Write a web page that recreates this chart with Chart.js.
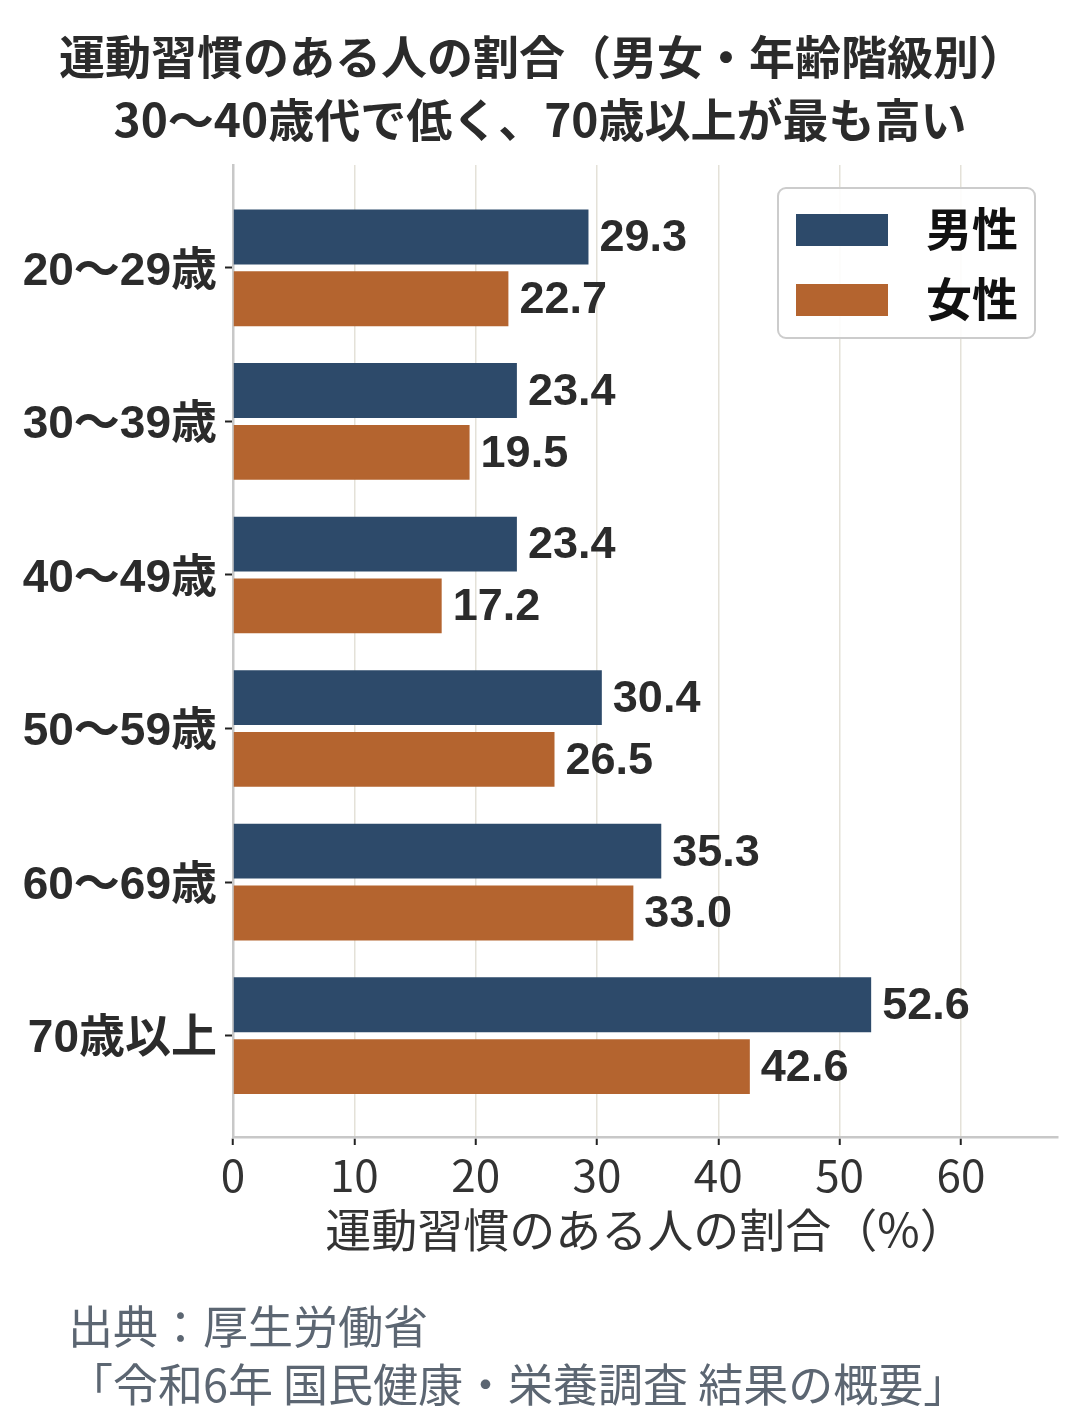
<!DOCTYPE html>
<html lang="ja">
<head>
<meta charset="utf-8">
<title>運動習慣のある人の割合</title>
<script src="https://cdn.jsdelivr.net/npm/chart.js@4.4.1/dist/chart.umd.min.js"></script>
<style>
  html, body { margin: 0; padding: 0; background: #fff; }
  #wrap { width: 1080px; height: 1425px; position: relative; }
</style>
</head>
<body>
<div id="wrap"><canvas id="chart"></canvas></div>
<script>
// データ（令和6年 国民健康・栄養調査）
const ageGroups = ['20～29歳', '30～39歳', '40～49歳', '50～59歳', '60～69歳', '70歳以上'];
const maleValues = [29.3, 23.4, 23.4, 30.4, 35.3, 52.6];
const femaleValues = [22.7, 19.5, 17.2, 26.5, 33.0, 42.6];
const seriesNames = ['男性', '女性'];
const xTickValues = [0, 10, 20, 30, 40, 50, 60];

const titleLines = ['運動習慣のある人の割合（男女・年齢階級別）', '30～40歳代で低く、70歳以上が最も高い'];
const xAxisTitle = '運動習慣のある人の割合（%）';
const sourceLines = ['出典：厚生労働省', '「令和6年 国民健康・栄養調査 結果の概要」'];

const COLORS = { male: '#2d4a6a', female: '#b4642f' };
const JP = '"Noto Sans CJK JP", "Noto Sans", sans-serif';
const NUM = '"Liberation Sans", "Noto Sans CJK JP", sans-serif';

// タイトル・凡例・出典・数値ラベル
const decorPlugin = {
    id: 'decor',
    afterDatasetsDraw(chart) {
        const ctx = chart.ctx;
        ctx.save();
        ctx.fillStyle = '#2b2b2b';
        ctx.font = `bold 45px ${NUM}`;
        ctx.textAlign = 'left';
        ctx.textBaseline = 'middle';
        chart.data.datasets.forEach((ds, di) => {
            chart.getDatasetMeta(di).data.forEach((bar, i) => {
                ctx.fillText(ds.data[i].x.toFixed(1), bar.x + 11, bar.y + 2);
            });
        });
        ctx.restore();
    },
    afterDraw(chart) {
        const ctx = chart.ctx;
        ctx.save();
        // タイトル
        ctx.fillStyle = '#2b2b2b';
        ctx.font = `bold 46px ${JP}`;
        ctx.textAlign = 'center';
        ctx.textBaseline = 'middle';
        ctx.fillText(titleLines[0], 542, 57);
        ctx.fillText(titleLines[1], 540, 120);

        // 凡例
        const lx = 778, ly = 188, lw = 257, lh = 150;
        ctx.fillStyle = 'rgba(255,255,255,0.9)';
        ctx.strokeStyle = '#cccccc';
        ctx.lineWidth = 2;
        ctx.beginPath();
        ctx.roundRect(lx, ly, lw, lh, 8);
        ctx.fill();
        ctx.stroke();
        [COLORS.male, COLORS.female].forEach((c, i) => {
            const y = 214 + i * 70;
            ctx.fillStyle = c;
            ctx.fillRect(796, y, 92, 32);
            ctx.fillStyle = '#111';
            ctx.font = `bold 46px ${JP}`;
            ctx.textAlign = 'left';
            ctx.fillText(seriesNames[i], 926, y + 15);
        });

        // 出典
        ctx.fillStyle = '#5c6672';
        ctx.font = `45px ${JP}`;
        ctx.textAlign = 'left';
        ctx.fillText(sourceLines[0], 68, 1327);
        ctx.fillText(sourceLines[1], 68, 1385);
        ctx.restore();
    }
};

new Chart(document.getElementById('chart'), {
    type: 'bar',
    data: {
        datasets: [
            {
                label: seriesNames[0],
                data: maleValues.map((v, i) => ({ x: v, y: i })),
                backgroundColor: COLORS.male
            },
            {
                label: seriesNames[1],
                data: femaleValues.map((v, i) => ({ x: v, y: i })),
                backgroundColor: COLORS.female
            }
        ]
    },
    options: {
        indexAxis: 'y',
        responsive: true,
        maintainAspectRatio: false,
        animation: false,
        categoryPercentage: 0.805,
        barPercentage: 0.887,
        layout: { padding: { top: 165, right: 22, bottom: 168, left: 0 } },
        plugins: {
            legend: { display: false },
            title: { display: false },
            tooltip: { enabled: false }
        },
        scales: {
            x: {
                type: 'linear',
                min: 0,
                max: 68,
                offset: false,
                afterFit(scale) { scale.height = 120; },
                afterBuildTicks(scale) { scale.ticks = xTickValues.map(v => ({ value: v })); },
                ticks: { color: '#333', font: { family: JP, size: 44 }, padding: 4 },
                grid: { color: '#e4e1d8', lineWidth: 1.5, tickColor: '#222', tickLength: 8, tickWidth: 2 },
                border: { color: '#c8c8c8', width: 2.5 },
                title: { display: true, text: xAxisTitle, color: '#333', font: { family: JP, size: 46 }, padding: 0 }
            },
            y: {
                type: 'linear',
                min: -0.67,
                max: 5.66,
                reverse: true,
                offset: false,
                afterFit(scale) { scale.width = 233; },
                afterBuildTicks(scale) { scale.ticks = ageGroups.map((_, i) => ({ value: i })); },
                ticks: {
                    color: '#2b2b2b',
                    // 空行＋小さい行高でラベルを少し下げる
                    font: { family: NUM, size: 46, weight: 'bold', lineHeight: '8px' },
                    padding: 8,
                    callback: v => ['', ageGroups[v]]
                },
                grid: { offset: false, drawOnChartArea: false, tickColor: '#222', tickLength: 8, tickWidth: 2 },
                border: { color: '#c8c8c8', width: 2.5 }
            }
        }
    },
    plugins: [decorPlugin]
});
</script>
</body>
</html>
